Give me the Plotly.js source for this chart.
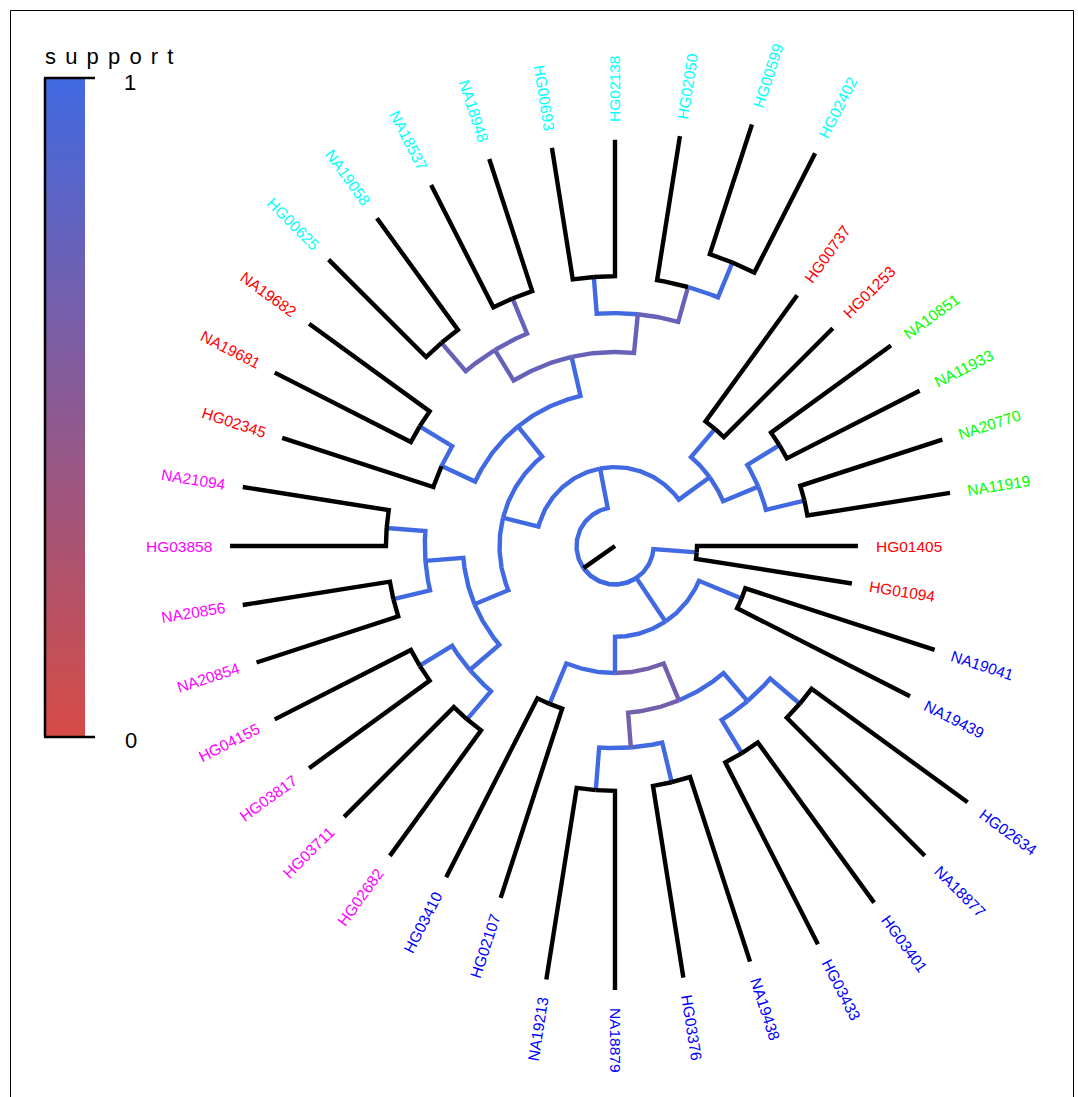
<!DOCTYPE html>
<html>
<head>
<meta charset="utf-8">
<script src="https://cdn.plot.ly/plotly-3.0.1.min.js"></script>
<style>html,body{margin:0;padding:0;background:#fff}#chart{width:1078px;height:1097px}</style>
</head>
<body>
<div id="chart"></div>
<script>
// ---------------- DATA ----------------
// Tips in their order around the circle (clockwise from 3 o'clock)
const tipLabels = ['HG01405','HG01094','NA19041','NA19439','HG02634','NA18877','HG03401','HG03433','NA19438','HG03376',
  'NA18879','NA19213','HG02107','HG03410','HG02682','HG03711','HG03817','HG04155','NA20854','NA20856',
  'HG03858','NA21094','HG02345','NA19681','NA19682','HG00625','NA19058','NA18537','NA18948','HG00693',
  'HG02138','HG02050','HG00599','HG02402','HG00737','HG01253','NA10851','NA11933','NA20770','NA11919'];
const tipGroup = ['AMR','AMR','AFR','AFR','AFR','AFR','AFR','AFR','AFR','AFR',
  'AFR','AFR','AFR','AFR','SAS','SAS','SAS','SAS','SAS','SAS',
  'SAS','SAS','AMR','AMR','AMR','EAS','EAS','EAS','EAS','EAS',
  'EAS','EAS','EAS','EAS','AMR','AMR','EUR','EUR','EUR','EUR'];
const tipParent = ['n01','n01','V','V','AA2','AA2','AA1','AA1','Z2','Z2',
  'Z1','Z1','X','X','T','T','S','S','R','R',
  'Q','Q','N','N1','N1','J1','J1','J2','J2','K1',
  'K1','L','M','M','nB1','nB1','D','D','E','E'];
const tipBranchLength = [4.18,4.10,5.17,5.04,5.01,5.07,5.14,5.30,5.04,5.04,
  5.17,5.04,5.17,5.22,4.03,4.03,3.87,3.97,3.87,3.87,
  4.05,3.84,4.13,3.97,3.87,3.58,3.58,3.56,3.61,3.46,
  3.54,3.79,3.54,3.48,4.05,4.00,3.85,3.87,3.88,3.75];

// Internal nodes
const innerNodes   = ['root','A','B','nB1','C','D','E','F','G','I','J','J1','J2','K','K1','L','M','N','N1','H','O','Q','R','P','S','T','n01','U','V','W','X','Y','Z','Z1','Z2','AA','AA1','AA2'];
const innerParent  = [null,'root','A','B','B','C','C','A','F','G','I','J','J','I','K','K','L','G','N','F','H','O','O','H','P','P','root','root','U','U','W','W','Y','Z','Z','Y','AA','AA'];
const innerBranchLength = [1.00,1.05,0.99,0.96,0.99,0.98,1.03,0.95,1.00,1.04,0.93,0.97,0.99,1.01,0.96,0.94,0.98,0.96,0.99,0.95,0.99,1.01,0.98,1.01,0.99,0.96,1.13,1.36,1.20,0.94,1.14,1.04,0.91,1.11,1.06,0.96,1.01,1.01];
const innerSupport = [null,1,1,1,1,1,1,1,1,1,0.75,0.74,0.75,0.75,1,0.74,1,1,1,1,1,1,1,1,1,1,1,1,1,1,1,0.66,0.66,1,1,1,1,1];
const rootEdgeTipPosition = 17.1;   // where the root edge leaves the centre

const groupColors = {AFR:'#0000FF', AMR:'#FF0000', EAS:'#00FFFF', EUR:'#00FF00', SAS:'#FF00FF'};
const supportRange = [0, 1];
const supportColors = ['#D64B45', '#4169E1'];   // low -> high
const legendTitle = 'support';

// ---------------- LAYOUT HELPERS ----------------
const W = 1078, H = 1097;
const pxPerUnit = 38.5;
const cx = 615, cy = 546;
const labelGap = 0.46;
const labelFont = 'Liberation Sans, Arial, Helvetica, sans-serif';
const labelSize = 15.5;
// colour bar box (pixels)
const barL = 45, barR = 85, barTop = 78, barBot = 737, tickEnd = 95;

const nodes = {};
tipLabels.forEach((n, i) => nodes[n] = {name:n, tip:true, pos:i+1, parent:tipParent[i], bl:tipBranchLength[i], support:null, children:[], group:tipGroup[i]});
innerNodes.forEach((n, i) => nodes[n] = {name:n, tip:false, parent:innerParent[i], bl:innerBranchLength[i], support:innerSupport[i], children:[]});
Object.values(nodes).forEach(nd => { if (nd.parent) nodes[nd.parent].children.push(nd.name); });

function depth(n) {
  const nd = nodes[n];
  if (nd.depth === undefined) nd.depth = (nd.parent ? depth(nd.parent) : 0) + nd.bl;
  return nd.depth;
}
function pos(n) {
  const nd = nodes[n];
  if (nd.pos === undefined) {
    if (!nd.parent) nd.pos = rootEdgeTipPosition;
    else { const c = nd.children.map(pos); nd.pos = c.reduce((a,b)=>a+b,0)/c.length; }
  }
  return nd.pos;
}
const step = 360 / tipLabels.length;
function angleDeg(p) { return -(p - 1) * step; }
function xy(d, p) { const a = angleDeg(p) * Math.PI / 180; return [d * Math.cos(a), d * Math.sin(a)]; }

function hex2rgb(h){ return [1,3,5].map(i=>parseInt(h.substr(i,2),16)); }
function colorAt(v) {
  const t = (v - supportRange[0]) / (supportRange[1] - supportRange[0]);
  const a = hex2rgb(supportColors[0]), b = hex2rgb(supportColors[1]);
  const c = a.map((x,i)=>Math.round(x + (b[i]-x)*t));
  return 'rgb(' + c.join(',') + ')';
}

// ---------------- TREE SEGMENTS ----------------
const byColor = {};
function addPath(color, pts) {
  if (!byColor[color]) byColor[color] = {x:[], y:[]};
  pts.forEach(q => { byColor[color].x.push(q[0]); byColor[color].y.push(q[1]); });
  byColor[color].x.push(null); byColor[color].y.push(null);
}
Object.values(nodes).forEach(nd => {
  const color = nd.support === null ? 'black' : colorAt(nd.support);
  if (!nd.parent) {
    addPath('black', [xy(0, pos(nd.name)), xy(depth(nd.name), pos(nd.name))]);
    return;
  }
  const pd = depth(nd.parent), pp = pos(nd.parent), p = pos(nd.name);
  const n = Math.max(2, Math.ceil(Math.abs(p - pp) * 24));
  const pts = [];
  for (let k = 0; k <= n; k++) pts.push(xy(pd, pp + (p - pp) * k / n));
  pts.push(xy(depth(nd.name), p));
  addPath(color, pts);
});

const traces = [];
Object.keys(byColor).sort((a,b)=> (a==='black') - (b==='black')).forEach(c => {
  traces.push({type:'scatter', mode:'lines', x:byColor[c].x, y:byColor[c].y, xaxis:'x', yaxis:'y',
    line:{color:c, width:4.4}, hoverinfo:'skip', showlegend:false, connectgaps:false});
});

// colour bar as a smooth heatmap
traces.push({type:'heatmap', x:[0,1], y:supportRange, z:[[supportRange[0],supportRange[0]],[supportRange[1],supportRange[1]]],
  zsmooth:'best', colorscale:[[0,supportColors[0]],[1,supportColors[1]]], zmin:supportRange[0], zmax:supportRange[1],
  showscale:false, xaxis:'x2', yaxis:'y2', hoverinfo:'skip'});

// ---------------- LABELS ----------------
const ctx = document.createElement('canvas').getContext('2d');
ctx.font = labelSize + 'px ' + labelFont;
const annotations = [];
tipLabels.forEach((n, i) => {
  const nd = nodes[n];
  const w = ctx.measureText(n).width / pxPerUnit;
  const r = depth(n) + labelGap + w / 2;
  const [x, y] = xy(r, nd.pos);
  const a = ((angleDeg(nd.pos) % 360) + 360) % 360;
  const flipped = a > 90 && a < 270;
  let ta = flipped ? 180 - a : -a;
  while (ta <= -180) ta += 360;
  while (ta > 180) ta -= 360;
  annotations.push({x, y, xref:'x', yref:'y', text:n, showarrow:false, textangle:ta,
    xanchor:'center', yanchor:'middle', font:{family:labelFont, size:labelSize, color:groupColors[nd.group]}});
});

// legend texts
const legFont = {family:'Liberation Sans, Arial, sans-serif', size:22, color:'black'};
const px2x = v => v / W, px2y = v => 1 - v / H;
annotations.push({xref:'paper', yref:'paper', x:px2x(109), y:px2y(56), text:legendTitle.split('').join('\u2004\u200A'), showarrow:false,
  xanchor:'center', yanchor:'middle', font:legFont});
annotations.push({xref:'paper', yref:'paper', x:px2x(130), y:px2y(barTop + 4), text:String(supportRange[1]), showarrow:false,
  xanchor:'center', yanchor:'middle', font:legFont});
annotations.push({xref:'paper', yref:'paper', x:px2x(131), y:px2y(barBot + 3), text:String(supportRange[0]), showarrow:false,
  xanchor:'center', yanchor:'middle', font:legFont});

const shapes = [
  {type:'rect', xref:'paper', yref:'paper', x0:px2x(10.5), x1:px2x(1073.5), y0:-0.05, y1:px2y(10.5), line:{color:'black', width:1}, layer:'below'},
  {type:'line', xref:'paper', yref:'paper', x0:px2x(barL-1), x1:px2x(tickEnd), y0:px2y(barTop), y1:px2y(barTop), line:{color:'black', width:2.5}},
  {type:'line', xref:'paper', yref:'paper', x0:px2x(barL-1), x1:px2x(tickEnd), y0:px2y(barBot), y1:px2y(barBot), line:{color:'black', width:2.5}},
  {type:'line', xref:'paper', yref:'paper', x0:px2x(barL), x1:px2x(barL), y0:px2y(barTop), y1:px2y(barBot), line:{color:'black', width:2.5}}
];

const layout = {
  width:W, height:H, margin:{l:0, r:0, t:0, b:0}, paper_bgcolor:'white', plot_bgcolor:'rgba(0,0,0,0)',
  showlegend:false,
  xaxis:{range:[-cx/pxPerUnit, (W-cx)/pxPerUnit], visible:false, domain:[0,1]},
  yaxis:{range:[-(H-cy)/pxPerUnit, cy/pxPerUnit], visible:false, domain:[0,1]},
  xaxis2:{domain:[px2x(barL), px2x(barR)], range:[0,1], visible:false, anchor:'y2'},
  yaxis2:{domain:[px2y(barBot), px2y(barTop)], range:supportRange, anchor:'x2', visible:false},
  annotations, shapes
};
Plotly.newPlot('chart', traces, layout, {displayModeBar:false, staticPlot:true});
</script>
</body>
</html>
